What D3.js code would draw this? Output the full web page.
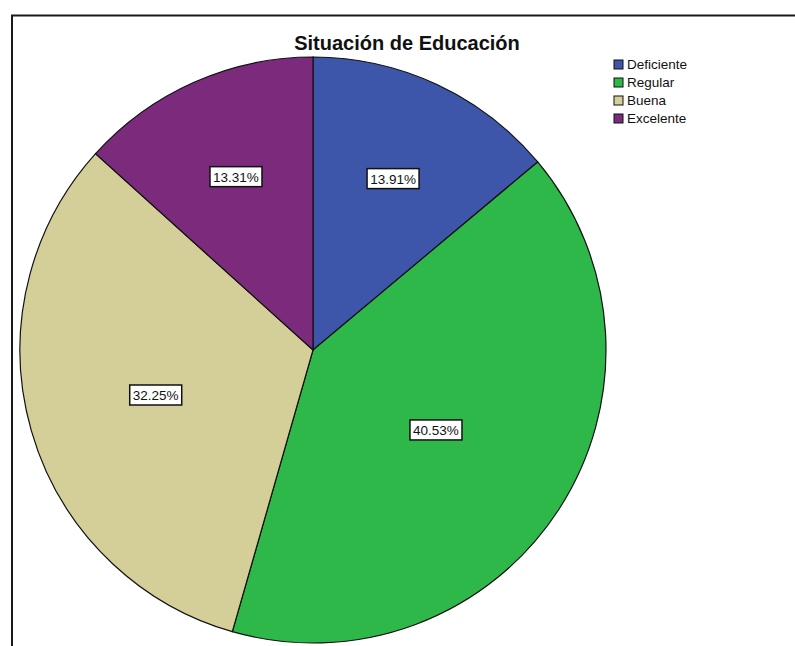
<!DOCTYPE html>
<html lang="es">
<head>
<meta charset="utf-8">
<title>Situación de Educación</title>
<script src="https://d3js.org/d3.v7.min.js"></script>
<style>
  body { margin: 0; background: #fff; }
  text { font-family: "Liberation Sans", Arial, sans-serif; }
</style>
</head>
<body>
<script>
// data
const categories = ["Deficiente", "Regular", "Buena", "Excelente"];
const percents = [13.91, 40.53, 32.25, 13.31];
const colors = ["#3d56aa", "#2fb84a", "#d4cf99", "#7c2a7c"];

const w = 795, h = 646;
const cx = 313, cy = 350, r = 293;

const svg = d3.select("body").append("svg")
  .attr("width", w).attr("height", h);

// frame of the output viewer
svg.append("path")
  .attr("d", "M12," + h + "V15.5H" + w)
  .attr("fill", "none")
  .attr("stroke", "#1a1a1a")
  .attr("stroke-width", 2);

const data = categories.map((c, i) => ({ cat: c, val: percents[i] }));

const pie = d3.pie().sort(null).value(d => d.val);
const arc = d3.arc().innerRadius(0).outerRadius(r);

const g = svg.append("g").attr("transform", "translate(" + cx + "," + cy + ")");
const arcs = pie(data);

g.selectAll("path.slice")
  .data(arcs)
  .enter().append("path")
  .attr("class", "slice")
  .attr("d", arc)
  .attr("fill", (d, i) => colors[i])
  .attr("stroke", "#111")
  .attr("stroke-width", 1.2);

// labels at the area centroid of each sector
const fmt = d => d.toFixed(2) + "%";
const lab = g.selectAll("g.lab")
  .data(arcs)
  .enter().append("g")
  .attr("class", "lab")
  .attr("transform", d => {
    const a = d.endAngle - d.startAngle;
    const m = (d.startAngle + d.endAngle) / 2;
    const dist = 4 * r * Math.sin(a / 2) / (3 * a);
    return "translate(" + (dist * Math.sin(m)) + "," + (-dist * Math.cos(m)) + ")";
  });

lab.append("rect")
  .attr("x", -26).attr("y", -10)
  .attr("width", 52).attr("height", 20)
  .attr("fill", "#fff")
  .attr("stroke", "#111")
  .attr("stroke-width", 1.5);

lab.append("text")
  .attr("text-anchor", "middle")
  .attr("y", 5)
  .style("font-size", "13.5px")
  .attr("fill", "#111")
  .text(d => fmt(d.data.val));

// title
svg.append("text")
  .attr("x", 407)
  .attr("y", 50)
  .attr("text-anchor", "middle")
  .style("font-size", "20px")
  .style("font-weight", "bold")
  .attr("fill", "#111")
  .text("Situación de Educación");

// legend
const leg = svg.append("g").attr("transform", "translate(614,60)");
const item = leg.selectAll("g")
  .data(categories)
  .enter().append("g")
  .attr("transform", (d, i) => "translate(0," + (i * 18) + ")");

item.append("rect")
  .attr("width", 9).attr("height", 9)
  .attr("fill", (d, i) => colors[i])
  .attr("stroke", "#111")
  .attr("stroke-width", 1);

item.append("text")
  .attr("x", 13)
  .attr("y", 9)
  .style("font-size", "13.5px")
  .attr("fill", "#111")
  .text(d => d);
</script>
</body>
</html>
